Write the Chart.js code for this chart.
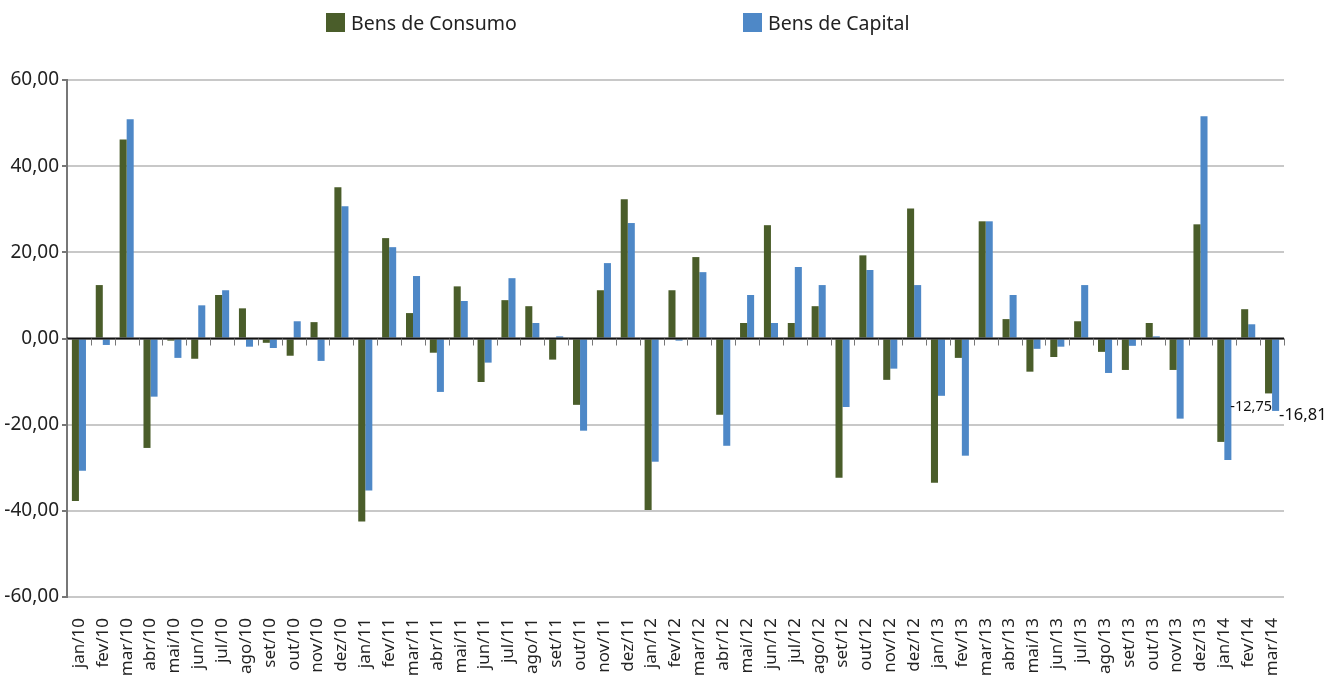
<!DOCTYPE html>
<html>
<head>
<meta charset="utf-8">
<script src="https://cdn.jsdelivr.net/npm/chart.js@4"></script>
<style>
    body { margin: 0; background: #fff; font-family: 'Noto Sans', sans-serif; }
    #wrap { position: relative; width: 1325px; height: 675px; }
    .legend-item { position: absolute; top: 9px; font-size: 19.5px; color: #222; display: flex; align-items: center; }
    .legend-item span.box { display: inline-block; width: 19px; height: 19px; margin-right: 6px; }
</style>
</head>
<body>
<div id="wrap">
    <div class="legend-item" style="left: 326px;"><span class="box" style="background:#4a5d2a"></span>Bens de Consumo</div>
    <div class="legend-item" style="left: 743px;"><span class="box" style="background:#4e88c7"></span>Bens de Capital</div>
    <canvas id="chart" width="1325" height="675"></canvas>
</div>
<script>
const labels = [
    'jan/10', 'fev/10', 'mar/10', 'abr/10', 'mai/10', 'jun/10', 'jul/10', 'ago/10', 'set/10', 'out/10', 'nov/10', 'dez/10',
    'jan/11', 'fev/11', 'mar/11', 'abr/11', 'mai/11', 'jun/11', 'jul/11', 'ago/11', 'set/11', 'out/11', 'nov/11', 'dez/11',
    'jan/12', 'fev/12', 'mar/12', 'abr/12', 'mai/12', 'jun/12', 'jul/12', 'ago/12', 'set/12', 'out/12', 'nov/12', 'dez/12',
    'jan/13', 'fev/13', 'mar/13', 'abr/13', 'mai/13', 'jun/13', 'jul/13', 'ago/13', 'set/13', 'out/13', 'nov/13', 'dez/13',
    'jan/14', 'fev/14', 'mar/14'
];

const consumo = [
    -37.7, 12.4, 46.2, -25.4, -0.5, -4.7, 10.1, 7.0, -1.0, -4.0, 3.8, 35.1,
    -42.5, 23.3, 5.9, -3.3, 12.1, -10.1, 8.9, 7.5, -4.9, -15.4, 11.2, 32.3,
    -39.8, 11.2, 18.9, -17.7, 3.6, 26.3, 3.6, 7.5, -32.3, 19.3, -9.6, 30.2,
    -33.5, -4.5, 27.2, 4.5, -7.7, -4.3, 4.0, -3.1, -7.3, 3.6, -7.3, 26.5,
    -24.0, 6.8, -12.75
];

const capital = [
    -30.7, -1.5, 50.9, -13.5, -4.5, 7.7, 11.2, -1.9, -2.2, 4.0, -5.2, 30.7,
    -35.3, 21.2, 14.5, -12.4, 8.7, -5.6, 14.0, 3.6, 0.5, -21.4, 17.5, 26.8,
    -28.6, -0.5, 15.4, -24.9, 10.1, 3.6, 16.6, 12.4, -15.9, 15.9, -7.0, 12.4,
    -13.3, -27.2, 27.2, 10.1, -2.4, -1.9, 12.4, -8.0, -1.7, 0.5, -18.6, 51.6,
    -28.2, 3.3, -16.81
];

const fmt = v => v.toFixed(2).replace('.', ',');

// zero line ticks + last-point labels
const extras = {
    id: 'extras',
    afterDatasetsDraw(chart) {
        const { ctx, scales: { x, y } } = chart;
        const y0 = y.getPixelForValue(0);
        ctx.save();
        ctx.strokeStyle = '#111';
        ctx.lineWidth = 2;
        ctx.beginPath();
        ctx.moveTo(x.left, y0);
        ctx.lineTo(x.right, y0);
        ctx.stroke();
        ctx.strokeStyle = '#777';
        ctx.lineWidth = 1;
        for (let i = 0; i <= labels.length; i++) {
            const px = Math.round(x.getPixelForValue(i - 0.5)) + 0.5;
            ctx.beginPath();
            ctx.moveTo(px, y0);
            ctx.lineTo(px, y0 + 7);
            ctx.stroke();
        }

        const last = labels.length - 1;
        const g = chart.getDatasetMeta(0).data[last];
        const b = chart.getDatasetMeta(1).data[last];
        ctx.fillStyle = '#111';
        ctx.textBaseline = 'middle';
        ctx.font = '14.5px "Noto Sans"';
        ctx.textAlign = 'right';
        ctx.fillText(fmt(consumo[last]), g.x + g.width / 2, g.y + 13);
        ctx.font = '16.5px "Noto Sans"';
        ctx.textAlign = 'left';
        ctx.fillText(fmt(capital[last]), b.x + b.width / 2, b.y + 4);
        ctx.restore();
    }
};

new Chart(document.getElementById('chart'), {
    type: 'bar',
    data: {
        labels,
        datasets: [
            { label: 'Bens de Consumo', data: consumo, backgroundColor: '#4a5d2a' },
            { label: 'Bens de Capital', data: capital, backgroundColor: '#4e88c7' }
        ]
    },
    options: {
        responsive: false,
        animation: false,
        layout: { padding: { top: 80, right: 41, left: 0, bottom: 0 } },
        datasets: { bar: { categoryPercentage: 0.59, barPercentage: 1.0 } },
        plugins: { legend: { display: false }, tooltip: { enabled: false } },
        scales: {
            x: {
                grid: { display: false },
                border: { display: false },
                ticks: {
                    autoSkip: false,
                    minRotation: 90,
                    maxRotation: 90,
                    padding: 13,
                    color: '#222',
                    font: { family: 'Noto Sans', size: 17 }
                },
                afterFit: s => { s.height = 78; }
            },
            y: {
                min: -60,
                max: 60,
                ticks: {
                    stepSize: 20,
                    padding: 3,
                    color: '#222',
                    font: { family: 'Noto Sans', size: 19 },
                    callback: v => fmt(v)
                },
                grid: {
                    color: '#c8c8c8',
                    lineWidth: 2,
                    tickColor: '#777',
                    tickLength: 5
                },
                border: { display: true, color: '#777', width: 2 },
                afterFit: s => { s.width = 67; }
            }
        }
    },
    plugins: [extras]
});
</script>
</body>
</html>
